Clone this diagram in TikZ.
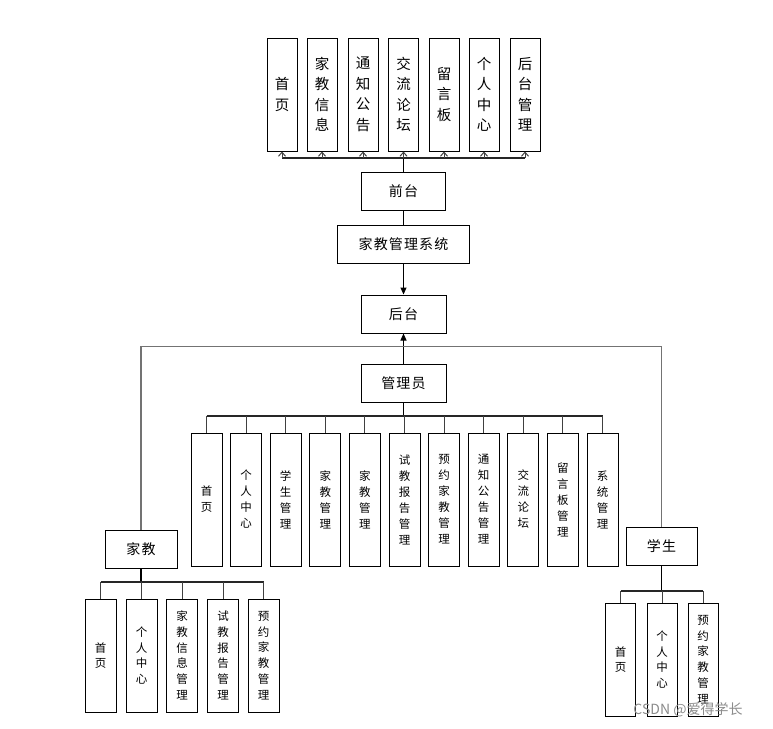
\documentclass[tikz,border=0pt]{standalone}
\usepackage{fontspec}
\setmainfont{Noto Sans CJK SC}
\usetikzlibrary{arrows.meta}

\begin{document}
\begin{tikzpicture}[x=1pt,y=-1pt,
        box/.style={draw=black,line width=1pt,fill=white,inner sep=0pt,align=center},
        topbox/.style={box,minimum width=30pt,minimum height=113pt,font=\fontsize{14.5}{20.5}\selectfont},
        menubox/.style={box,minimum width=31pt,minimum height=133pt,font=\fontsize{11.5}{16}\selectfont},
        subbox/.style={box,minimum width=31pt,minimum height=113pt,font=\fontsize{11.5}{15.7}\selectfont},
        headbox/.style={box,minimum height=38pt,font=\fontsize{14}{16}\selectfont\addfontfeature{LetterSpace=8}},
        branch/.style={line width=1pt,draw=black!75},
        bus/.style={line width=1.3pt,draw=black!85},
        stem/.style={line width=1.8pt,draw=black},
        uptip/.style={branch,-{Straight Barb[length=4pt,width=7pt]}},
        filltip/.style={line width=1pt,draw=black,-{Triangle[length=7pt,width=6pt]}},
        frameline/.style={line width=1.3pt,draw=black!55}]
    \useasboundingbox (0,0) rectangle (773,728);
    % front end
    \node[topbox] (t1) at (282,94.5) {首\\页};
    \node[topbox] (t2) at (322,94.5) {家\\教\\信\\息};
    \node[topbox] (t3) at (363,94.5) {通\\知\\公\\告};
    \node[topbox] (t4) at (403.5,94.5) {交\\流\\论\\坛};
    \node[topbox] (t5) at (444,94.5) {留\\言\\板};
    \node[topbox] (t6) at (484,94.5) {个\\人\\中\\心};
    \node[topbox] (t7) at (525,94.5) {后\\台\\管\\理};
    \node[headbox,minimum width=84pt] (qt) at (403.5,191) {前台};
    \node[headbox,minimum width=132pt] (sys) at (403.5,244.5) {家教管理系统};
    \node[headbox,minimum width=85pt] (ht) at (403.5,314) {后台};
    \node[headbox,minimum width=85pt] (gly) at (403.5,383) {管理员};
    \coordinate (topbus) at (403.5,158);
    \draw[stem] (qt.north) -- (topbus);
    \draw[bus] (topbus -| t1.south) -- (topbus -| t7.south);
    \draw[uptip] (topbus -| t1.south) -- (t1.south);
    \draw[uptip] (topbus -| t2.south) -- (t2.south);
    \draw[uptip] (topbus -| t3.south) -- (t3.south);
    \draw[uptip] (topbus -| t4.south) -- (t4.south);
    \draw[uptip] (topbus -| t5.south) -- (t5.south);
    \draw[uptip] (topbus -| t6.south) -- (t6.south);
    \draw[uptip] (topbus -| t7.south) -- (t7.south);
    \draw[line width=1pt] (qt.south) -- (sys.north);
    \draw[filltip] (sys.south) -- (ht.north);
    % administrator
    \node[menubox] (m1) at (206.5,499.5) {首\\页};
    \node[menubox] (m2) at (246.1,499.5) {个\\人\\中\\心};
    \node[menubox] (m3) at (285.7,499.5) {学\\生\\管\\理};
    \node[menubox] (m4) at (325.3,499.5) {家\\教\\管\\理};
    \node[menubox] (m5) at (364.9,499.5) {家\\教\\管\\理};
    \node[menubox] (m6) at (404.5,499.5) {试\\教\\报\\告\\管\\理};
    \node[menubox] (m7) at (444.1,499.5) {预\\约\\家\\教\\管\\理};
    \node[menubox] (m8) at (483.7,499.5) {通\\知\\公\\告\\管\\理};
    \node[menubox] (m9) at (523.3,499.5) {交\\流\\论\\坛};
    \node[menubox] (m10) at (562.9,499.5) {留\\言\\板\\管\\理};
    \node[menubox] (m11) at (602.5,499.5) {系\\统\\管\\理};
    \coordinate (admbus) at (403.5,416);
    \draw[filltip] (gly.north) -- (ht.south);
    \draw[stem] (gly.south) -- (admbus);
    \draw[bus] (admbus -| m1.north) -- (admbus -| m11.north);
    \draw[branch] (admbus -| m1.north) -- (m1.north);
    \draw[branch] (admbus -| m2.north) -- (m2.north);
    \draw[branch] (admbus -| m3.north) -- (m3.north);
    \draw[branch] (admbus -| m4.north) -- (m4.north);
    \draw[branch] (admbus -| m5.north) -- (m5.north);
    \draw[branch] (admbus -| m6.north) -- (m6.north);
    \draw[branch] (admbus -| m7.north) -- (m7.north);
    \draw[branch] (admbus -| m8.north) -- (m8.north);
    \draw[branch] (admbus -| m9.north) -- (m9.north);
    \draw[branch] (admbus -| m10.north) -- (m10.north);
    \draw[branch] (admbus -| m11.north) -- (m11.north);
    % tutor and student
    \node[headbox,minimum width=72pt] (jj) at (141,549) {家教};
    \node[headbox,minimum width=71pt] (xs) at (661.5,546) {学生};
    \coordinate (frame) at (403.5,346.7);
    \draw[frameline] (jj.north) |- (frame) -| (xs.north);
    \node[subbox] (j1) at (100.5,655.5) {首\\页};
    \node[subbox] (j2) at (141.5,655.5) {个\\人\\中\\心};
    \node[subbox] (j3) at (182,655.5) {家\\教\\信\\息\\管\\理};
    \node[subbox] (j4) at (223,655.5) {试\\教\\报\\告\\管\\理};
    \node[subbox] (j5) at (263.5,655.5) {预\\约\\家\\教\\管\\理};
    \coordinate (jjbus) at (141,582);
    \draw[stem] (jj.south) -- (jjbus);
    \draw[bus] (jjbus -| j1.north) -- (jjbus -| j5.north);
    \draw[branch] (jjbus -| j1.north) -- (j1.north);
    \draw[branch] (jjbus -| j2.north) -- (j2.north);
    \draw[branch] (jjbus -| j3.north) -- (j3.north);
    \draw[branch] (jjbus -| j4.north) -- (j4.north);
    \draw[branch] (jjbus -| j5.north) -- (j5.north);
    \node[subbox,minimum width=30pt] (s1) at (620.7,659.5) {首\\页};
    \node[subbox,minimum width=30pt] (s2) at (662,659.5) {个\\人\\中\\心};
    \node[subbox,minimum width=30pt] (s3) at (703,659.5) {预\\约\\家\\教\\管\\理};
    \coordinate (xsbus) at (661.5,591);
    \draw[stem] (xs.south) -- (xsbus);
    \draw[bus] (xsbus -| s1.north) -- (xsbus -| s3.north);
    \draw[branch] (xsbus -| s1.north) -- (s1.north);
    \draw[branch] (xsbus -| s2.north) -- (s2.north);
    \draw[branch] (xsbus -| s3.north) -- (s3.north);
    % watermark
    \node[text=black!45,font=\fontsize{14}{16}\selectfont] (mark) at (688,710) {CSDN @爱得学长};
\end{tikzpicture}
\end{document}
